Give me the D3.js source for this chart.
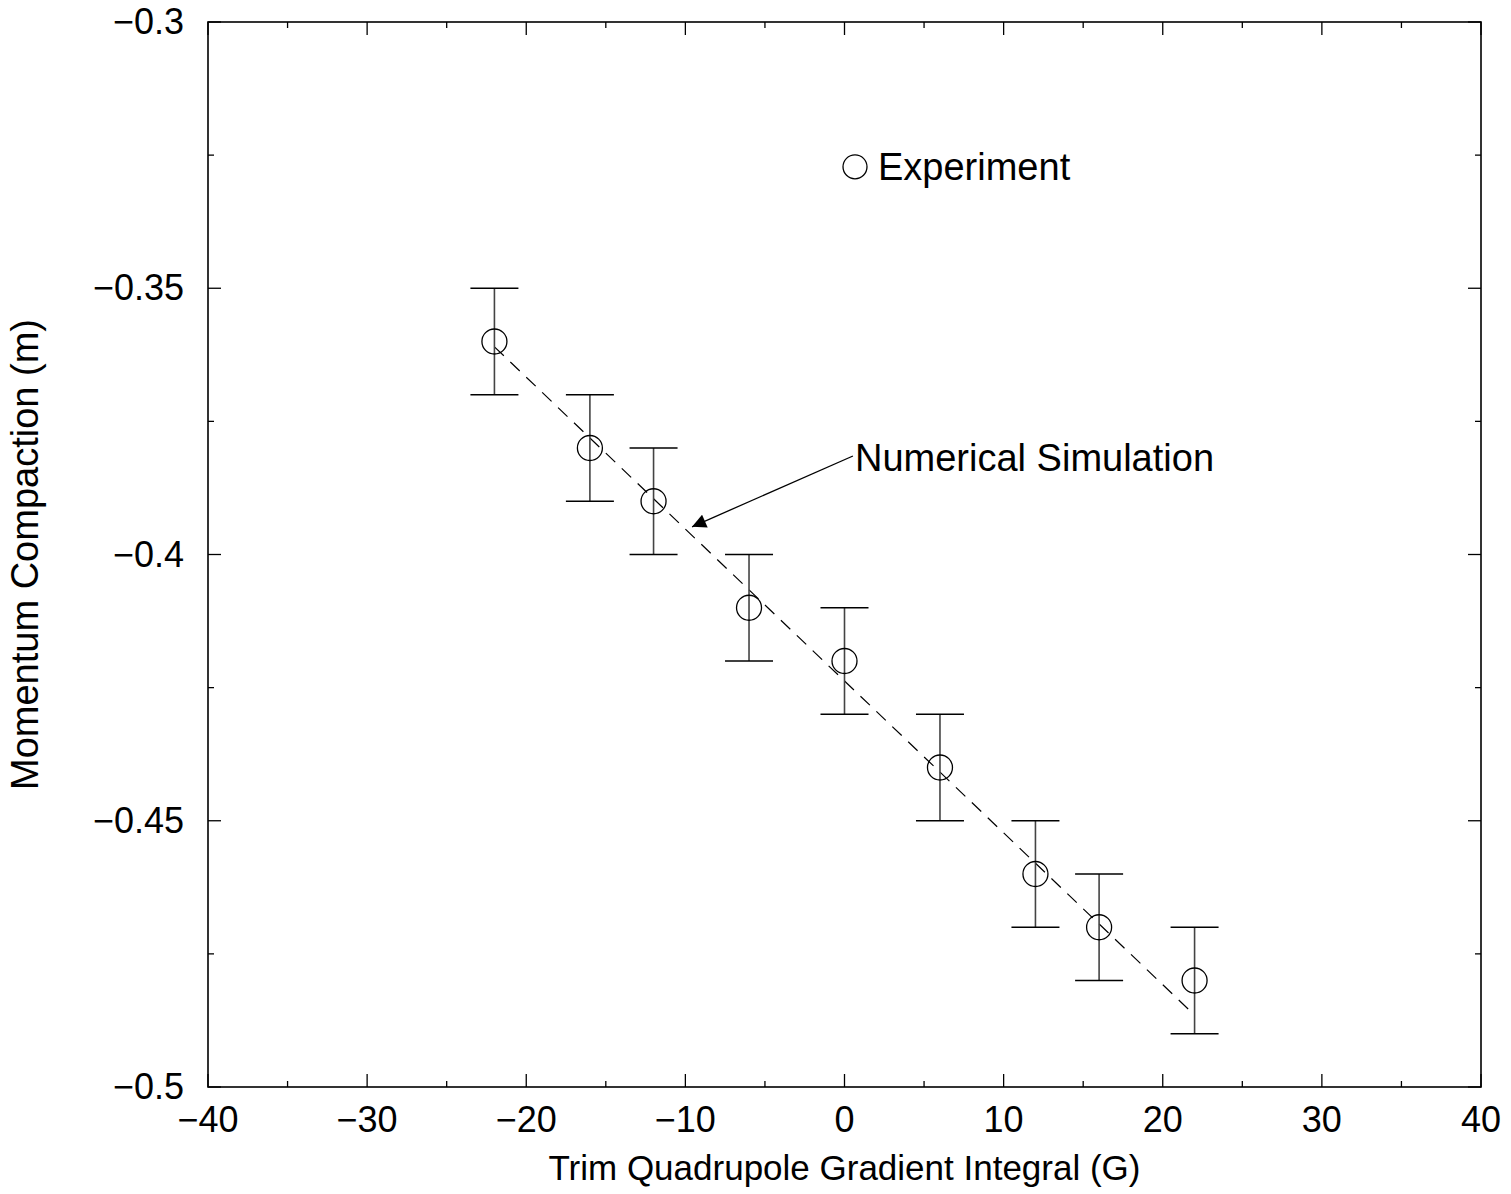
<!DOCTYPE html>
<html lang="en">
<head>
<meta charset="UTF-8">
<title>Momentum Compaction vs Trim Quadrupole</title>
<script src="https://d3js.org/d3.v7.min.js"></script>
<style>
  body { margin: 0; background: #fff; }
  text { font-family: "Liberation Sans", Arial, sans-serif; fill: #000; }
</style>
</head>
<body>
<svg width="1511" height="1194"></svg>
<script>
    // experiment data
    const gradient = [-22, -16, -12, -6, 0, 6, 12, 16, 22];
    const compaction = [-0.36, -0.38, -0.39, -0.41, -0.42, -0.44, -0.46, -0.47, -0.48];
    const errorBar = [0.01, 0.01, 0.01, 0.01, 0.01, 0.01, 0.01, 0.01, 0.01];

    // numerical simulation (straight dashed line)
    const simX = [-22, 22];
    const simY = [-0.361, -0.4865];

    const xTicks = [-40, -30, -20, -10, 0, 10, 20, 30, 40];
    const yTicks = [-0.3, -0.35, -0.4, -0.45, -0.5];

    const svg = d3.select("svg");
    const margin = {left: 208, right: 30, top: 22, bottom: 107};
    const W = 1511, H = 1194;

    const x = d3.scaleLinear().domain([-40, 40]).range([margin.left, W - margin.right]);
    const y = d3.scaleLinear().domain([-0.5, -0.3]).range([H - margin.bottom, margin.top]);

    const fmt = v => String(+v.toFixed(2)).replace("-", "\u2212");

    // ticks inward on all four sides
    const xMinor = d3.range(-35, 40, 10);
    const yMinor = d3.range(-0.475, -0.3, 0.05);
    const big = 13, small = 6;

    const ticks = svg.append("g").attr("stroke", "#000").attr("stroke-width", 1.3);
    [[xTicks, big], [xMinor, small]].forEach(([arr, len]) => {
        arr.forEach(v => {
            ticks.append("line").attr("x1", x(v)).attr("x2", x(v))
                .attr("y1", y(-0.5)).attr("y2", y(-0.5) - len);
            ticks.append("line").attr("x1", x(v)).attr("x2", x(v))
                .attr("y1", y(-0.3)).attr("y2", y(-0.3) + len);
        });
    });
    [[yTicks, big], [yMinor, small]].forEach(([arr, len]) => {
        arr.forEach(v => {
            ticks.append("line").attr("y1", y(v)).attr("y2", y(v))
                .attr("x1", x(-40)).attr("x2", x(-40) + len);
            ticks.append("line").attr("y1", y(v)).attr("y2", y(v))
                .attr("x1", x(40)).attr("x2", x(40) - len);
        });
    });

    // frame
    svg.append("rect")
        .attr("x", x(-40)).attr("y", y(-0.3))
        .attr("width", x(40) - x(-40)).attr("height", y(-0.5) - y(-0.3))
        .attr("fill", "none").attr("stroke", "#000").attr("stroke-width", 1.6);

    // tick labels
    svg.append("g").selectAll("text").data(xTicks).join("text")
        .attr("x", d => x(d)).attr("y", y(-0.5) + 45)
        .attr("text-anchor", "middle").attr("font-size", 36)
        .text(fmt);
    svg.append("g").selectAll("text").data(yTicks).join("text")
        .attr("x", x(-40) - 24).attr("y", d => y(d) + 12)
        .attr("text-anchor", "end").attr("font-size", 36)
        .text(fmt);

    // axis titles
    svg.append("text")
        .attr("x", x(0)).attr("y", 1180)
        .attr("text-anchor", "middle").attr("font-size", 35)
        .text("Trim Quadrupole Gradient Integral (G)");
    svg.append("text")
        .attr("transform", `translate(38, ${y(-0.4)}) rotate(-90)`)
        .attr("text-anchor", "middle").attr("font-size", 38)
        .text("Momentum Compaction (m)");

    // simulation dashed line
    const simData = simX.map((v, i) => [v, simY[i]]);
    svg.append("path")
        .datum(simData)
        .attr("d", d3.line().x(d => x(d[0])).y(d => y(d[1])))
        .attr("fill", "none").attr("stroke", "#000").attr("stroke-width", 1.2)
        .attr("stroke-dasharray", "13,9");

    // error bars
    const pts = gradient.map((g, i) => ({g, c: compaction[i], e: errorBar[i]}));
    const eb = svg.append("g").attr("stroke", "#444").attr("stroke-width", 1.6);
    pts.forEach(d => {
        eb.append("line").attr("x1", x(d.g)).attr("x2", x(d.g))
            .attr("y1", y(d.c + d.e)).attr("y2", y(d.c - d.e));
        [d.c + d.e, d.c - d.e].forEach(v => {
            eb.append("line").attr("x1", x(d.g) - 24).attr("x2", x(d.g) + 24)
                .attr("y1", y(v)).attr("y2", y(v)).attr("stroke", "#000");
        });
    });

    // circles
    svg.append("g").selectAll("circle").data(pts).join("circle")
        .attr("cx", d => x(d.g)).attr("cy", d => y(d.c)).attr("r", 12.5)
        .attr("fill", "none").attr("stroke", "#000").attr("stroke-width", 1.3);

    // legend
    svg.append("circle")
        .attr("cx", x(0.66)).attr("cy", y(-0.3272)).attr("r", 12)
        .attr("fill", "none").attr("stroke", "#000").attr("stroke-width", 1.3);
    svg.append("text")
        .attr("x", x(0.66) + 23).attr("y", y(-0.3272) + 13)
        .attr("font-size", 38).text("Experiment");

    // annotation with arrow
    svg.append("defs").append("marker")
        .attr("id", "arrow").attr("viewBox", "0 0 10 10")
        .attr("refX", 10).attr("refY", 5)
        .attr("markerWidth", 18).attr("markerHeight", 14)
        .attr("markerUnits", "userSpaceOnUse")
        .attr("orient", "auto")
        .append("path").attr("d", "M0,0 L10,5 L0,10 Z").attr("fill", "#000");

    svg.append("line")
        .attr("x1", x(0.53)).attr("y1", y(-0.3815))
        .attr("x2", x(-9.58)).attr("y2", y(-0.3948))
        .attr("stroke", "#000").attr("stroke-width", 1.3)
        .attr("marker-end", "url(#arrow)");
    svg.append("text")
        .attr("x", x(0.66)).attr("y", y(-0.3843))
        .attr("font-size", 38).text("Numerical Simulation");
</script>
</body>
</html>
